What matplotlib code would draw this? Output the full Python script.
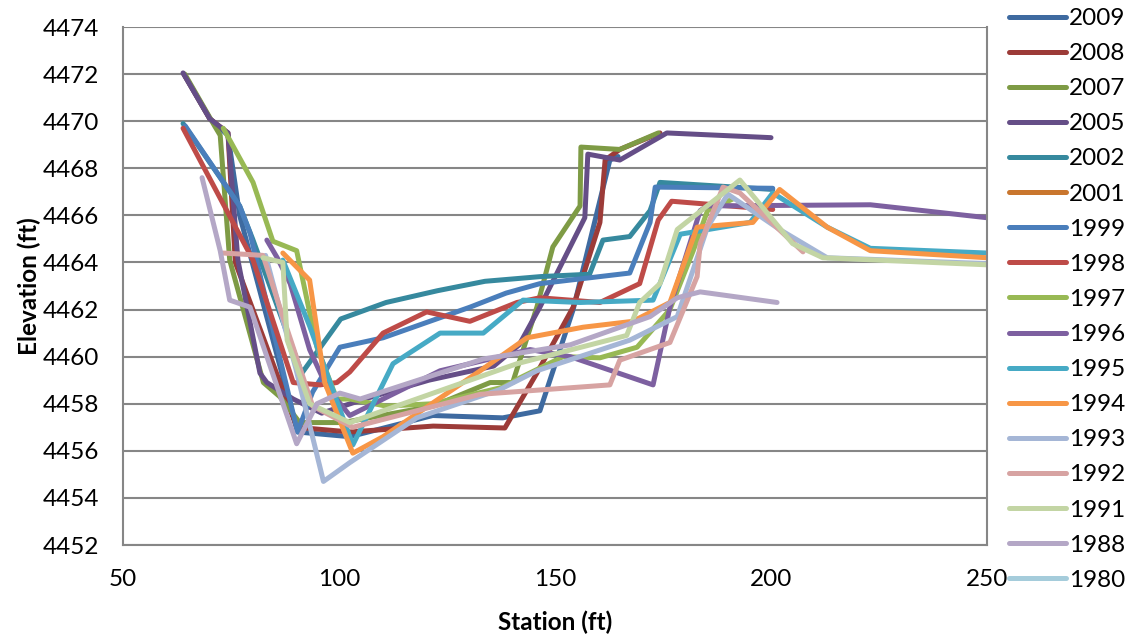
import matplotlib.pyplot as plt

plt.rcParams['font.family'] = ['Lato', 'DejaVu Sans']

years = ["2009", "2008", "2007", "2005", "2002", "2001", "1999", "1998",
         "1997", "1996", "1995", "1994", "1993", "1992", "1991", "1988", "1980"]
colors = ["#3E6AA0", "#9C3B38", "#7E9B45", "#654E87", "#36899E", "#C9762E",
          "#4A7EBB", "#BE4B48", "#98B954", "#7D60A0", "#46AAC5", "#F79646",
          "#A5B6D6", "#D7A3A2", "#C3D5A4", "#B4A7C6", "#A5CCDB"]

# station (ft) / elevation (ft)
sta_2009 = [64.1, 70.1, 74.3, 77, 90.4, 102.5, 121.7, 137.9, 146.5, 154.2, 162.7, 164.6]
elev_2009 = [4472.0, 4470.1, 4469.4, 4466.0, 4456.8, 4456.6, 4457.5, 4457.4, 4457.7,
             4462.0, 4468.35, 4468.5]
sta_2008 = [64.1, 70.1, 74.3, 76, 90.2, 102.5, 121.8, 138.4, 145.8, 154.2, 160.4,
            161.6, 165, 174.3]
elev_2008 = [4472.0, 4470.1, 4469.5, 4464.0, 4457.0, 4456.8, 4457.05, 4456.97,
             4459.3, 4462.1, 4465.7, 4468.35, 4468.8, 4469.5]
sta_2007 = [64.3, 71.2, 72.5, 74.7, 82.5, 86.3, 90.9, 100.9, 121.8, 135, 140.2,
            145.8, 149.5, 155.8, 156, 165, 173.9]
elev_2007 = [4472.0, 4469.8, 4469.4, 4464.1, 4458.9, 4458.3, 4457.2, 4457.2, 4457.9,
             4458.9, 4458.9, 4462.1, 4464.66, 4466.4, 4468.9, 4468.8, 4469.5]
sta_2005 = [63.9, 70.1, 74.3, 76.6, 81.7, 83.3, 89.4, 96, 105.9, 120.8, 135.8,
            141.7, 146.5, 156.9, 157.6, 165, 175.9, 200]
elev_2005 = [4472.05, 4470.1, 4469.5, 4464.1, 4459.3, 4458.9, 4458.2, 4457.6,
             4458.2, 4459.0, 4459.6, 4460.5, 4462.1, 4465.9, 4468.6, 4468.35,
             4469.5, 4469.3]
sta_2002 = [63.9, 77, 80, 91.4, 100.4, 110.9, 122.8, 133.8, 146.7, 158, 161.1,
            167.3, 172, 174.3, 200.4]
elev_2002 = [4469.9, 4466.4, 4465.0, 4459.3, 4461.6, 4462.3, 4462.8, 4463.2, 4463.4,
             4463.5, 4464.95, 4465.1, 4466.2, 4467.4, 4467.1]
sta_2001 = []
elev_2001 = []
sta_1999 = [64.4, 77, 79.4, 90.4, 93.9, 100.2, 110.2, 130.3, 138.7, 146.5, 167.3,
            172, 173.2, 200.4]
elev_1999 = [4469.8, 4466.4, 4465.25, 4456.8, 4458.5, 4460.4, 4460.8, 4462.1,
             4462.7, 4463.1, 4463.55, 4465.7, 4467.2, 4467.15]
sta_1998 = [63.9, 80.1, 89.4, 95.6, 99.5, 102.5, 110.2, 120.3, 130.3, 141.2, 146.5,
            160.4, 169.6, 173.9, 177, 200.4]
elev_1998 = [4469.7, 4464.1, 4458.9, 4458.8, 4458.9, 4459.35, 4461.0, 4461.9,
             4461.5, 4462.3, 4462.5, 4462.3, 4463.1, 4465.8, 4466.6, 4466.25]
sta_1997 = [73.2, 80.1, 84.7, 90.2, 94.9, 99.5, 102.5, 110.9, 121.8, 137.9, 141.9,
            151.9, 160.4, 169, 176.6, 182, 185.3, 191.2]
elev_1997 = [4469.7, 4467.4, 4464.9, 4464.5, 4460.4, 4458.2, 4458.2, 4457.9, 4458.0,
             4458.7, 4459.1, 4460.0, 4459.95, 4460.4, 4462.0, 4464.5, 4466.2, 4466.7]
sta_1996 = [83.3, 85.7, 88.7, 93.2, 97.2, 102.5, 123.4, 144.2, 153.5, 172.7, 176.6,
            183.6, 185.3, 223, 250]
elev_1996 = [4464.95, 4464.2, 4463.1, 4460.3, 4458.7, 4457.5, 4459.4, 4460.3, 4460.0,
             4458.8, 4462.1, 4466.2, 4466.4, 4466.45, 4465.9]
sta_1995 = [87, 93.2, 103.2, 112.5, 123.4, 133.4, 142.6, 155.8, 172.7, 179, 195.2,
            200.4, 213, 223, 250]
elev_1995 = [4464.1, 4461.3, 4456.25, 4459.7, 4461.0, 4461.0, 4462.4, 4462.3, 4462.4,
             4465.2, 4465.7, 4466.95, 4465.5, 4464.6, 4464.4]
sta_1994 = [87, 93.2, 96.7, 103.2, 110.2, 132.7, 143.5, 156.5, 168, 176.6, 182.9,
            195.8, 202, 213, 223, 250]
elev_1994 = [4464.4, 4463.25, 4458.9, 4455.9, 4456.6, 4459.4, 4460.8, 4461.25,
             4461.5, 4462.3, 4465.5, 4465.7, 4467.1, 4465.5, 4464.5, 4464.2]
sta_1993 = [83, 90, 96.4, 102.5, 118, 137.2, 145.8, 167.3, 178.3, 182, 185.3, 190,
            202, 213, 250]
elev_1993 = [4464.3, 4459.5, 4454.7, 4455.5, 4457.4, 4458.6, 4459.4, 4460.7, 4461.7,
             4463.7, 4465.5, 4466.9, 4465.4, 4464.2, 4463.95]
sta_1992 = [73.2, 82.4, 86.3, 93.9, 103.2, 132.7, 162.7, 165, 176.6, 182.9, 183.6,
            188.9, 192.8, 207.4]
elev_1992 = [4464.4, 4464.3, 4462.1, 4457.9, 4457.0, 4458.4, 4458.8, 4459.85,
             4460.6, 4463.4, 4464.8, 4467.2, 4466.95, 4464.45]
sta_1991 = [82.4, 87, 88, 93.2, 102.5, 121.8, 141.2, 166.6, 169.6, 174.3, 178.3,
            192.8, 205, 212, 250]
elev_1991 = [4464.2, 4464.0, 4460.7, 4458.0, 4457.2, 4458.45, 4459.7, 4460.9,
             4462.3, 4463.1, 4465.4, 4467.5, 4464.8, 4464.2, 4463.9]
sta_1988 = [68.3, 72.5, 74.7, 79.4, 90.2, 94.9, 100.2, 104.9, 133.4, 153.5, 172,
            178.3, 183.6, 201.4]
elev_1988 = [4467.6, 4464.5, 4462.4, 4462.1, 4456.3, 4458.0, 4458.45, 4458.2,
             4459.9, 4460.5, 4461.7, 4462.5, 4462.75, 4462.3]
sta_1980 = []
elev_1980 = []

stations = [sta_2009, sta_2008, sta_2007, sta_2005, sta_2002, sta_2001, sta_1999,
            sta_1998, sta_1997, sta_1996, sta_1995, sta_1994, sta_1993, sta_1992,
            sta_1991, sta_1988, sta_1980]
elevations = [elev_2009, elev_2008, elev_2007, elev_2005, elev_2002, elev_2001,
              elev_1999, elev_1998, elev_1997, elev_1996, elev_1995, elev_1994,
              elev_1993, elev_1992, elev_1991, elev_1988, elev_1980]

fig = plt.figure(figsize=(11.36, 6.37), dpi=100)
ax = fig.add_axes([123 / 1136, 1 - 545 / 637, 864 / 1136, 518 / 637])

for yr, c, xs, ys in zip(years, colors, stations, elevations):
    ax.plot(xs, ys, color=c, lw=3.6, label=yr, solid_capstyle='round',
            solid_joinstyle='round')

ax.set_xlim(50, 250)
ax.set_ylim(4452, 4474)
ax.set_xticks(range(50, 251, 50))
ax.set_yticks(range(4452, 4475, 2))
ax.grid(axis='y', color='#868686', lw=1.5)
ax.set_axisbelow(True)
for side in ['left', 'bottom', 'right']:
    ax.spines[side].set_color('#868686')
    ax.spines[side].set_linewidth(1.5)
ax.spines['top'].set_visible(False)
ax.tick_params(axis='both', labelsize=17.5, length=0)
ax.tick_params(axis='x', pad=17)
ax.tick_params(axis='y', pad=17)

ax.set_xlabel("Station (ft)", fontsize=17.5, fontweight='bold', labelpad=15)
ax.set_ylabel("Elevation (ft)", fontsize=17.5, fontweight='bold', labelpad=1)

fig.legend(loc='upper left', bbox_to_anchor=(1009 / 1136, 1 - 8 / 637),
           frameon=False, fontsize=17.5, handlelength=2.35, handletextpad=0.12,
           labelspacing=0.58, borderpad=0, borderaxespad=0)

fig.savefig("out.png", dpi=100)
